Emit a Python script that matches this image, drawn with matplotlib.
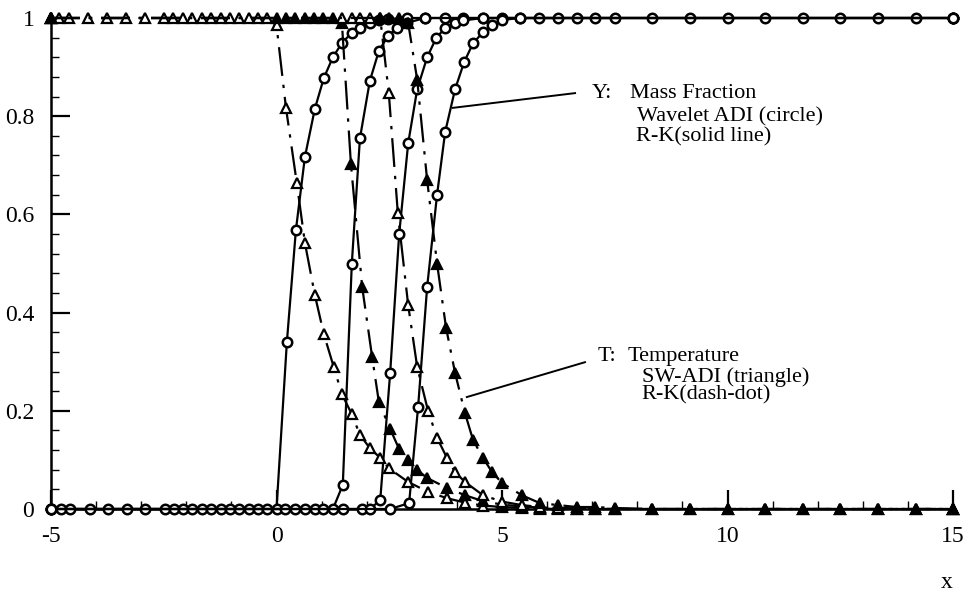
import matplotlib
matplotlib.use("Agg")
import matplotlib.pyplot as plt
from matplotlib.ticker import MultipleLocator

# Y: mass fraction, four snapshots (circles + solid line)
y1_x = [-5.0, -4.78, -4.58, -4.14, -3.73, -3.32, -2.92, -2.47, -2.27, -2.07, -1.87, -1.66,
        -1.45, -1.24, -1.03, -0.83, -0.62, -0.41, -0.21, 0.0, 0.23, 0.43, 0.63, 0.85, 1.05,
        1.25, 1.45, 1.67, 1.85, 2.07, 2.27, 2.47, 2.89, 3.29, 3.74, 4.14, 4.58, 5.0, 5.4,
        5.82, 6.24, 6.66, 7.06, 7.5, 8.33, 9.17, 10.0, 10.83, 11.67, 12.5, 13.33, 14.17, 15.0]
y1_y = [0, 0, 0, 0, 0, 0, 0, 0, 0, 0, 0, 0,
        0, 0, 0, 0, 0, 0, 0, 0, 0.34, 0.568, 0.717, 0.815, 0.878,
        0.92, 0.949, 0.97, 0.98, 0.99, 0.995, 0.998, 1, 1, 1, 1, 1, 1, 1,
        1, 1, 1, 1, 1, 1, 1, 1, 1, 1, 1, 1, 1, 1]

y2_x = [-5.0, 0.19, 0.41, 0.63, 0.85, 1.04, 1.25, 1.47, 1.67, 1.85, 2.07, 2.27, 2.47,
        2.67, 2.89, 3.29, 15.0]
y2_y = [0, 0, 0, 0, 0, 0, 0, 0.049, 0.50, 0.755, 0.872, 0.933, 0.963,
        0.98, 0.99, 1, 1]

y3_x = [-5.0, 1.47, 1.89, 2.07, 2.30, 2.52, 2.72, 2.92, 3.12, 3.34, 3.54, 3.74, 3.95,
        4.14, 4.58, 15.0]
y3_y = [0, 0, 0, 0, 0.018, 0.277, 0.56, 0.745, 0.855, 0.92, 0.959, 0.98, 0.99,
        0.995, 1, 1]

y4_x = [-5.0, 2.52, 2.94, 3.14, 3.34, 3.56, 3.74, 3.96, 4.16, 4.36, 4.58, 4.78, 5.0,
        5.4, 15.0]
y4_y = [0, 0, 0.012, 0.208, 0.452, 0.64, 0.768, 0.855, 0.91, 0.949, 0.971, 0.986, 0.996,
        1, 1]

# T: temperature, four snapshots (triangles + dash-dot line)
t1_x = [-5.0, -4.82, -4.6, -4.18, -3.76, -3.34, -2.92, -2.5, -2.29, -2.08, -1.87, -1.66,
        -1.45, -1.24, -1.04, -0.83, -0.62, -0.41, -0.21, 0.0, 0.21, 0.45, 0.63, 0.85, 1.05,
        1.27, 1.45, 1.67, 1.85, 2.07, 2.30, 2.49, 2.92, 3.36, 3.78, 4.18, 4.58, 5.0, 5.44,
        5.84, 6.24, 6.66, 7.06, 7.5, 8.33, 9.17, 10.0, 10.83, 11.67, 12.5, 13.33, 14.17, 15.0]
t1_y = [1, 1, 1, 1, 1, 1, 1, 1, 1, 1, 1, 1,
        1, 1, 1, 1, 1, 1, 1, 0.985, 0.817, 0.664, 0.542, 0.436, 0.356,
        0.289, 0.234, 0.193, 0.151, 0.124, 0.104, 0.083, 0.055, 0.035, 0.022, 0.013, 0.007, 0.004, 0.002,
        0.001, 0, 0, 0, 0, 0, 0, 0, 0, 0, 0, 0, 0, 0]

t2_x = [-5.0, 0.0, 0.21, 0.42, 0.63, 0.84, 1.04, 1.25, 1.45, 1.65, 1.90, 2.12, 2.27,
        2.52, 2.72, 2.92, 3.12, 3.34, 3.78, 4.18, 4.58, 5.0, 5.44, 5.84, 6.24, 6.66, 7.5, 15.0]
t2_y = [1, 1, 1, 1, 1, 1, 1, 1, 0.99, 0.703, 0.452, 0.31, 0.218,
        0.163, 0.122, 0.10, 0.08, 0.063, 0.043, 0.028, 0.016, 0.009, 0.005, 0.003, 0.002, 0.001, 0, 0]

t3_x = [-5.0, 1.45, 1.67, 1.85, 2.07, 2.30, 2.49, 2.69, 2.92, 3.12, 3.36, 3.56, 3.78,
        3.96, 4.18, 4.58, 5.0, 5.44, 5.84, 6.24, 7.06, 15.0]
t3_y = [1, 1, 1, 1, 1, 1, 0.847, 0.603, 0.415, 0.289, 0.20, 0.145, 0.104,
        0.075, 0.055, 0.028, 0.015, 0.008, 0.004, 0.002, 0, 0]

t4_x = [-5.0, 2.30, 2.49, 2.72, 2.92, 3.12, 3.34, 3.56, 3.76, 3.96, 4.18, 4.36, 4.58,
        4.78, 5.0, 5.44, 5.84, 6.24, 6.66, 7.06, 7.5, 8.33, 9.17, 10.0, 10.83, 11.67,
        12.5, 13.33, 14.17, 15.0]
t4_y = [1, 1, 1, 1, 0.99, 0.874, 0.67, 0.50, 0.369, 0.277, 0.195, 0.14, 0.104,
        0.075, 0.053, 0.028, 0.012, 0.008, 0.004, 0.004, 0.002, 0, 0, 0, 0, 0,
        0, 0, 0, 0]

y_curves = [(y1_x, y1_y), (y2_x, y2_y), (y3_x, y3_y), (y4_x, y4_y)]
t_curves = [(t1_x, t1_y, "white"), (t2_x, t2_y, "black"),
            (t3_x, t3_y, "white"), (t4_x, t4_y, "black")]

SERIF = ["Liberation Serif", "DejaVu Serif"]
DASHDOT = (0, (13, 4, 1.5, 4))


def main():
    plt.rcParams["font.family"] = SERIF
    fig = plt.figure(figsize=(9.72, 5.94), dpi=100)
    ax = fig.add_axes([51 / 972, 1 - 509 / 594, 902 / 972, 491 / 594])

    for xs, ys in y_curves:
        ax.plot(xs, ys, color="black", lw=1.6, marker="o", ms=6.8, mfc="white",
                mec="black", mew=1.8, clip_on=False, zorder=3)

    for xs, ys, face in t_curves:
        ax.plot(xs, ys, color="black", lw=1.6, ls=DASHDOT, marker="^", ms=6.8,
                mfc=face, mec="black", mew=1.6, clip_on=False, zorder=3)

    ax.set_xlim(-5, 15)
    ax.set_ylim(0, 1)
    ax.set_xticks([-5, 0, 5, 10, 15])
    ax.set_xticklabels(["-5", "0", "5", "10", "15"])
    ax.set_yticks([0, 0.2, 0.4, 0.6, 0.8, 1])
    ax.set_yticklabels(["0", "0.2", "0.4", "0.6", "0.8", "1"])
    ax.xaxis.set_minor_locator(MultipleLocator(1))
    ax.yaxis.set_minor_locator(MultipleLocator(0.04))
    ax.tick_params(which="major", direction="in", length=14, width=1.6,
                   labelsize=17, pad=12)
    ax.tick_params(which="minor", direction="in", length=6, width=1.0)
    ax.tick_params(top=False, right=False, which="both")

    for side in ["top", "right"]:
        ax.spines[side].set_visible(False)
    for side in ["left", "bottom"]:
        ax.spines[side].set_linewidth(1.8)

    # annotations with leader lines
    ax.plot([3.91, 6.62], [0.817, 0.847], color="black", lw=1.4, clip_on=False)
    ax.plot([4.22, 6.84], [0.228, 0.299], color="black", lw=1.4, clip_on=False)

    fs = 16
    ax.text(6.99, 0.847, "Y:", fontsize=fs, va="center", ha="left")
    ax.text(7.84, 0.847, "Mass Fraction", fontsize=fs, va="center", ha="left")
    ax.text(7.99, 0.798, "Wavelet ADI (circle)", fontsize=fs, va="center", ha="left")
    ax.text(7.97, 0.758, "R-K(solid line)", fontsize=fs, va="center", ha="left")

    ax.text(7.11, 0.31, "T:", fontsize=fs, va="center", ha="left")
    ax.text(7.79, 0.31, "Temperature", fontsize=fs, va="center", ha="left")
    ax.text(8.10, 0.269, "SW-ADI (triangle)", fontsize=fs, va="center", ha="left")
    ax.text(8.10, 0.232, "R-K(dash-dot)", fontsize=fs, va="center", ha="left")

    fig.text(947 / 972, 1 - 583 / 594, "x", fontsize=17, ha="center", va="center")

    fig.savefig("out.png", dpi=100)


if __name__ == "__main__":
    main()
